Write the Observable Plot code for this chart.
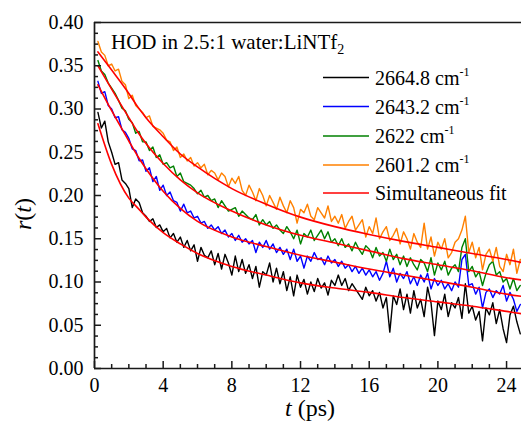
<!DOCTYPE html>
<html><head><meta charset="utf-8">
<script src="https://cdn.jsdelivr.net/npm/d3@7"></script>
<script src="https://cdn.jsdelivr.net/npm/@observablehq/plot@0.6"></script>
<style>body{margin:0;background:#fff}#chart svg{display:block}</style>
</head><body><div id="chart"></div>
<script>
// Measured r(t) traces, sampled every 0.2 ps starting at 0.2 ps
const black = [0.296,0.278,0.286,0.262,0.250,0.236,0.238,0.218,0.214,0.208,
0.186,0.196,0.192,0.180,0.176,0.170,0.173,0.163,0.166,0.158,
0.162,0.151,0.156,0.146,0.152,0.140,0.148,0.136,0.143,0.124,
0.140,0.131,0.128,0.136,0.120,0.133,0.115,0.132,0.122,0.108,
0.130,0.112,0.126,0.110,0.120,0.104,0.118,0.094,0.112,0.108,
0.122,0.100,0.116,0.098,0.112,0.090,0.106,0.084,0.108,0.094,
0.103,0.086,0.100,0.089,0.104,0.093,0.099,0.085,0.102,0.096,
0.108,0.096,0.104,0.090,0.098,0.092,0.086,0.080,0.094,0.084,
0.090,0.078,0.088,0.070,0.082,0.042,0.084,0.074,0.092,0.068,
0.086,0.064,0.090,0.070,0.080,0.060,0.094,0.076,0.038,0.078,
0.068,0.086,0.060,0.076,0.070,0.082,0.058,0.098,0.064,0.072,
0.056,0.066,0.032,0.070,0.062,0.076,0.052,0.068,0.046,0.030,
0.062,0.072,0.054,0.040];
const blue = [0.332,0.318,0.320,0.304,0.300,0.290,0.291,0.276,0.273,0.266,
0.254,0.252,0.240,0.241,0.228,0.232,0.216,0.222,0.206,0.212,
0.200,0.204,0.194,0.192,0.182,0.190,0.180,0.182,0.174,0.176,
0.168,0.170,0.162,0.166,0.160,0.164,0.156,0.160,0.152,0.156,
0.148,0.154,0.146,0.150,0.144,0.148,0.134,0.146,0.140,0.148,
0.138,0.144,0.134,0.140,0.132,0.138,0.126,0.138,0.124,0.130,
0.116,0.130,0.124,0.134,0.126,0.128,0.120,0.130,0.122,0.126,
0.118,0.124,0.116,0.120,0.112,0.118,0.110,0.116,0.108,0.114,
0.106,0.112,0.102,0.110,0.124,0.106,0.116,0.100,0.110,0.104,
0.112,0.098,0.106,0.096,0.108,0.100,0.110,0.092,0.104,0.096,
0.102,0.092,0.098,0.090,0.100,0.094,0.126,0.132,0.096,0.098,
0.086,0.094,0.070,0.088,0.092,0.082,0.090,0.086,0.096,0.078,
0.088,0.080,0.066,0.074];
const green = [0.356,0.344,0.340,0.330,0.324,0.318,0.310,0.301,0.298,0.288,
0.284,0.272,0.274,0.262,0.262,0.252,0.256,0.244,0.247,0.236,
0.238,0.232,0.234,0.222,0.226,0.216,0.214,0.212,0.208,0.202,
0.206,0.198,0.200,0.194,0.196,0.186,0.194,0.188,0.182,0.184,
0.186,0.176,0.182,0.178,0.174,0.172,0.178,0.166,0.172,0.166,
0.170,0.162,0.166,0.160,0.156,0.164,0.158,0.150,0.160,0.144,
0.156,0.152,0.160,0.148,0.154,0.160,0.150,0.158,0.146,0.150,
0.142,0.150,0.140,0.144,0.136,0.146,0.138,0.132,0.142,0.138,
0.128,0.140,0.130,0.134,0.124,0.138,0.126,0.132,0.120,0.130,
0.118,0.128,0.120,0.114,0.126,0.122,0.112,0.128,0.108,0.122,
0.114,0.124,0.108,0.116,0.120,0.112,0.140,0.150,0.112,0.118,
0.106,0.112,0.096,0.110,0.120,0.124,0.108,0.112,0.100,0.104,
0.092,0.104,0.090,0.096];
const orange = [0.378,0.366,0.362,0.350,0.352,0.344,0.346,0.332,0.328,0.312,
0.316,0.304,0.300,0.296,0.290,0.292,0.280,0.278,0.276,0.272,
0.264,0.262,0.252,0.256,0.244,0.248,0.240,0.244,0.234,0.238,
0.232,0.236,0.224,0.229,0.226,0.218,0.226,0.222,0.210,0.220,
0.214,0.222,0.206,0.200,0.212,0.204,0.194,0.208,0.200,0.188,
0.200,0.192,0.184,0.198,0.188,0.180,0.194,0.186,0.168,0.184,
0.180,0.190,0.176,0.172,0.186,0.180,0.174,0.188,0.170,0.176,
0.168,0.178,0.162,0.170,0.176,0.160,0.166,0.172,0.152,0.164,
0.156,0.174,0.150,0.158,0.164,0.148,0.154,0.162,0.144,0.158,
0.150,0.138,0.156,0.146,0.140,0.168,0.138,0.152,0.130,0.146,
0.138,0.150,0.128,0.134,0.146,0.150,0.160,0.176,0.134,0.146,
0.128,0.140,0.114,0.132,0.138,0.124,0.140,0.118,0.112,0.132,
0.120,0.138,0.110,0.126];

// Simultaneous fit curves, read at these times (ps)
const fitT      = [0.2, 1, 2, 2.5, 3, 4, 5, 6, 8, 10, 12, 14, 16, 18, 20, 22, 24, 25];
const fitBlack  = [0.283,0.236,0.197,0.186,0.175,0.157,0.144,0.133,0.118,0.108,0.099,0.093,0.088,0.082,0.077,0.072,0.066,0.063];
const fitBlue   = [0.328,0.298,0.263,0.246,0.231,0.205,0.185,0.170,0.152,0.141,0.131,0.123,0.115,0.108,0.101,0.094,0.086,0.083];
const fitGreen  = [0.350,0.323,0.290,0.274,0.260,0.237,0.218,0.203,0.182,0.166,0.154,0.145,0.136,0.127,0.120,0.113,0.105,0.102];
const fitOrange = [0.366,0.345,0.318,0.303,0.290,0.268,0.248,0.233,0.208,0.190,0.175,0.164,0.155,0.147,0.140,0.133,0.126,0.122];

const seriesLabels = ["2664.8", "2643.2", "2622", "2601.2"];
const seriesColors = ["#000000", "#0000ff", "#008000", "#ff8000"];
const fitColor = "#ff0000";
const fitLabel = "Simultaneous fit";
const titleText = "HOD in 2.5:1 water:LiNTf";

const xMajor = [0, 4, 8, 12, 16, 20, 24];
const xMinor = [1,2,3,5,6,7,9,10,11,13,14,15,17,18,19,21,22,23];
const yMajor = [0, 0.05, 0.10, 0.15, 0.20, 0.25, 0.30, 0.35, 0.40];
const yMinor = [0.0125,0.025,0.0375,0.0625,0.075,0.0875,0.1125,0.125,0.1375,0.1625,0.175,0.1875,
                0.2125,0.225,0.2375,0.2625,0.275,0.2875,0.3125,0.325,0.3375,0.3625,0.375,0.3875];

const values = [black, blue, green, orange];
const fits = [fitBlack, fitBlue, fitGreen, fitOrange];
const tGrid = d3.range(black.length).map(i => +(0.2 + 0.2 * i).toFixed(1));

const dataRows = values.flatMap((v, k) => v.map((r, i) => ({t: tGrid[i], r, s: seriesLabels[k]})));
const fitRows = fits.flatMap((v, k) => v.map((r, i) => ({t: fitT[i], r, s: seriesLabels[k]})));

const font = "'Liberation Serif', 'Times New Roman', serif";
const axisStroke = "#1a1a1a";
const W = 521, H = 422, ML = 94, MR = 0, MT = 22, MB = 54;
const innerW = W - ML - MR, innerH = H - MT - MB;

const plot = Plot.plot({
  width: W, height: H,
  marginLeft: ML, marginRight: MR, marginTop: MT, marginBottom: MB,
  style: {fontFamily: font, fontSize: "20px", color: "#000", background: "#fff"},
  x: {domain: [0, 24.87]},
  y: {domain: [0, 0.40]},
  marks: [
    ...seriesLabels.map((name, k) => Plot.line(dataRows.filter(d => d.s === name),
      {x: "t", y: "r", stroke: seriesColors[k], strokeWidth: 1.4})),
    ...seriesLabels.map(name => Plot.line(fitRows.filter(d => d.s === name),
      {x: "t", y: "r", stroke: fitColor, strokeWidth: 1.6, curve: "monotone-x", clip: true})),
    // inward ticks
    Plot.tickX(xMajor, {x: d => d, insetTop: innerH - 7, stroke: axisStroke, strokeWidth: 1.5}),
    Plot.tickX(xMinor, {x: d => d, insetTop: innerH - 4, stroke: axisStroke, strokeWidth: 1.5}),
    Plot.tickY(yMajor, {y: d => d, insetRight: innerW - 7, stroke: axisStroke, strokeWidth: 1.5}),
    Plot.tickY(yMinor, {y: d => d, insetRight: innerW - 4, stroke: axisStroke, strokeWidth: 1.5}),
    // tick labels
    Plot.axisX(xMajor, {tickSize: 0, tickPadding: 9, stroke: "none", label: null}),
    Plot.axisY(yMajor, {tickSize: 0, tickPadding: 11, stroke: "none", tickFormat: d3.format(".2f"), label: null}),
    Plot.ruleY([0], {stroke: axisStroke, strokeWidth: 1.7}),
    Plot.ruleY([0.40], {stroke: axisStroke, strokeWidth: 1.7}),
    Plot.ruleX([0], {stroke: axisStroke, strokeWidth: 1.7})
  ]
});
document.getElementById("chart").appendChild(plot);

// Text annotations: title, axis titles, legend
const svg = d3.select(plot);
const g = svg.append("g").attr("font-family", font).attr("fill", "#000").attr("text-anchor", "start");

const title = g.append("text").attr("x", 111).attr("y", 49).attr("font-size", 21).attr("text-anchor", "start");
title.append("tspan").text(titleText);
title.append("tspan").attr("font-size", 14).attr("dy", 5).text("2");

const xt = g.append("text").attr("x", 310).attr("y", 416).attr("text-anchor", "middle").attr("font-size", 24);
xt.append("tspan").attr("font-style", "italic").text("t");
xt.append("tspan").text(" (ps)");

const yt = g.append("text").attr("transform", "translate(31,214) rotate(-90)").attr("text-anchor", "middle").attr("font-size", 24);
yt.append("tspan").attr("font-style", "italic").text("r");
yt.append("tspan").text("(");
yt.append("tspan").attr("font-style", "italic").text("t");
yt.append("tspan").text(")");

const legendY = [77.5, 106.5, 136, 165, 193];
const legendItems = seriesLabels.map((s, k) => ({label: s, color: seriesColors[k], sup: true}))
  .concat([{label: fitLabel, color: fitColor, sup: false}]);
legendItems.forEach((it, k) => {
  const y = legendY[k];
  g.append("line").attr("x1", 323).attr("x2", 369).attr("y1", y).attr("y2", y)
    .attr("stroke", it.color).attr("stroke-width", 1.6);
  const t = g.append("text").attr("x", 375).attr("y", y + 7).attr("font-size", 20).attr("text-anchor", "start");
  if (it.sup) {
    t.append("tspan").text(it.label + " cm");
    t.append("tspan").attr("font-size", 12).attr("dy", -9).text("-1");
  } else {
    t.text(it.label);
  }
});
</script>
</body></html>
